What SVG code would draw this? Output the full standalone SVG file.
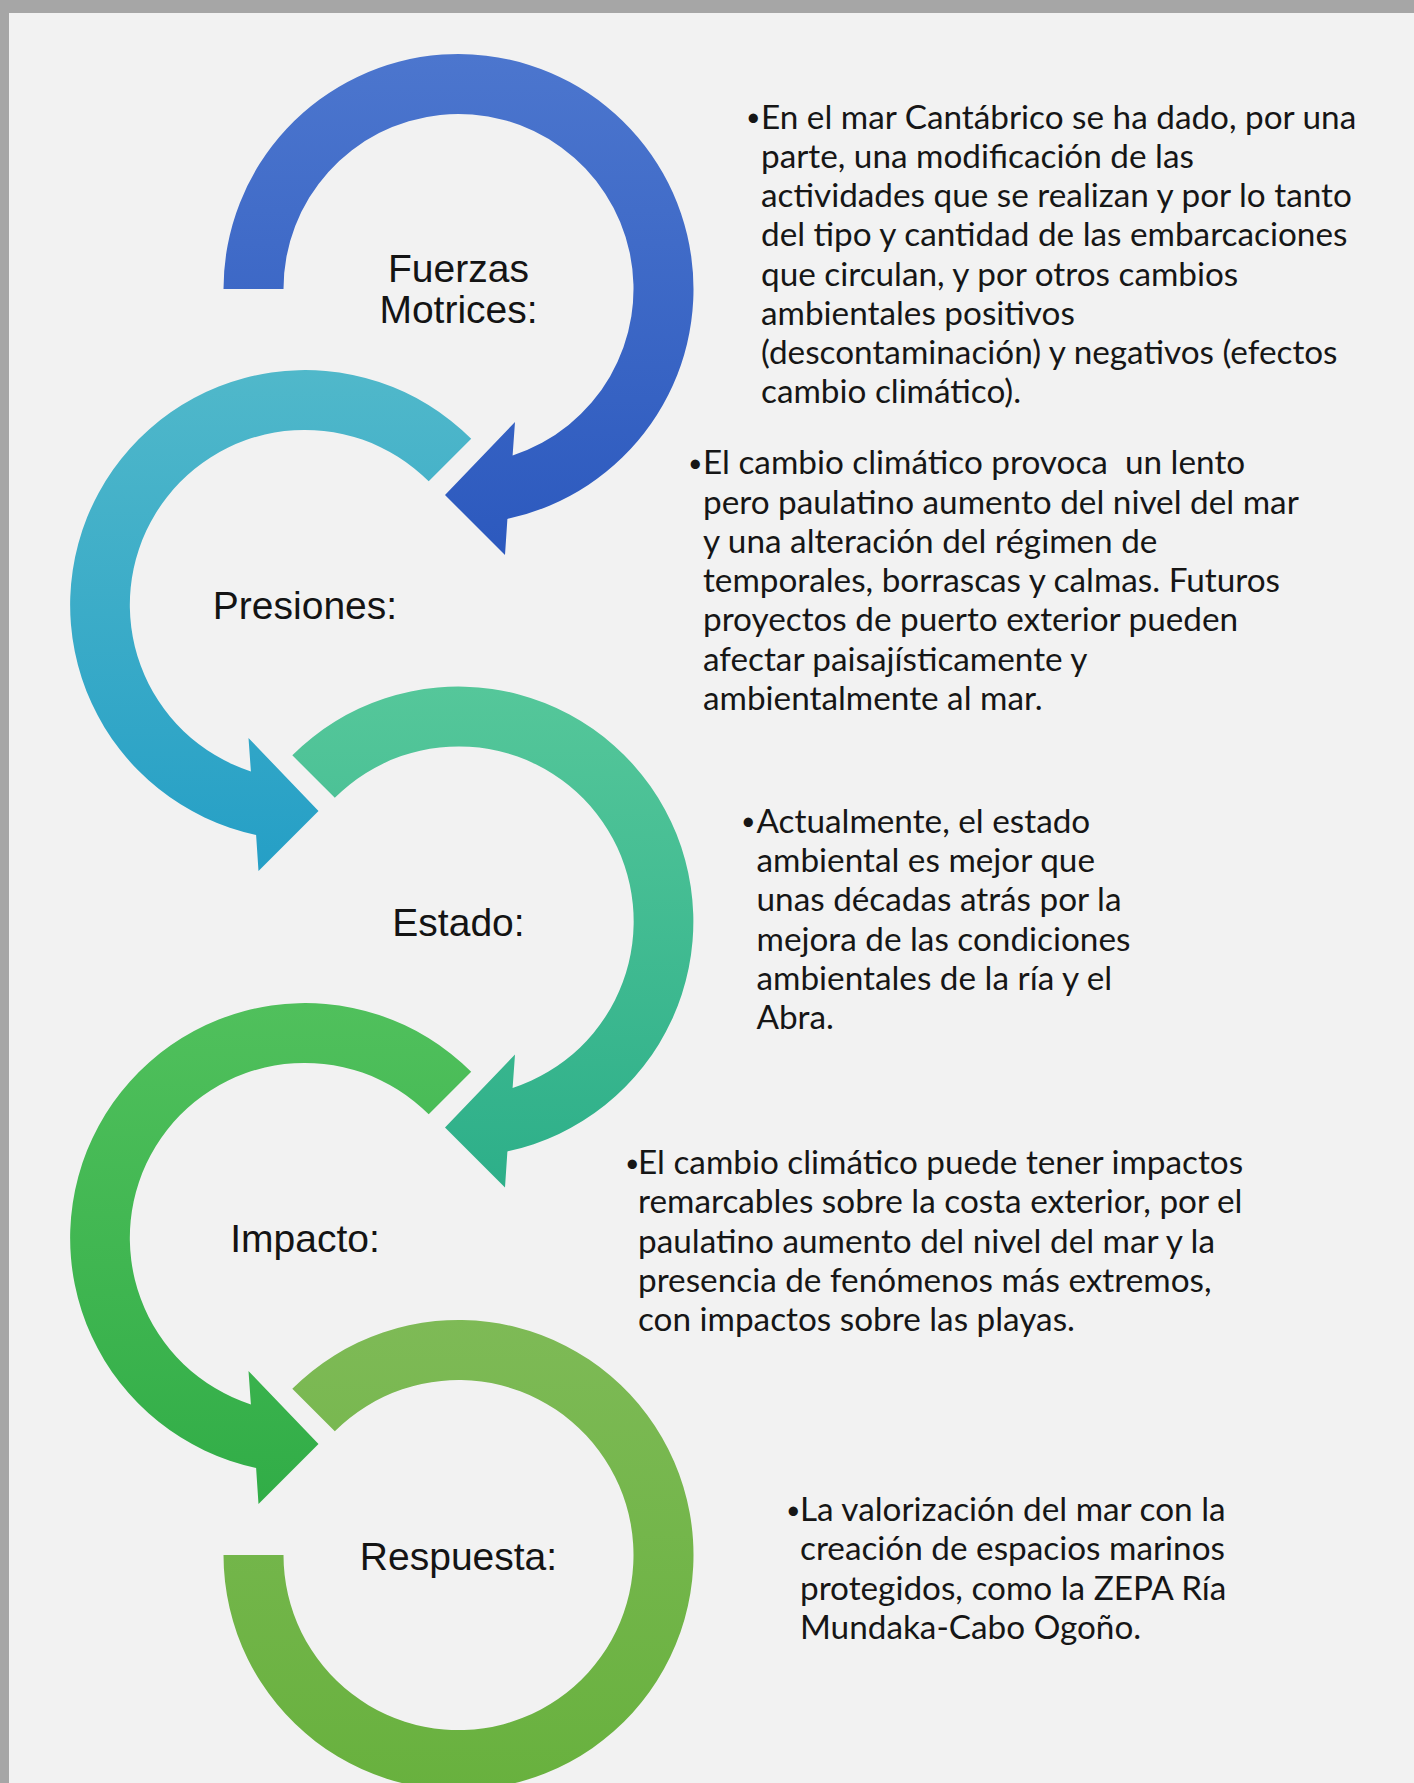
<svg xmlns="http://www.w3.org/2000/svg" width="1414" height="1783" viewBox="0 0 1414 1783">
<style>
.lbl{font-family:"Liberation Sans",Arial,sans-serif;font-size:39px;fill:#141414;text-anchor:middle}
.desc{font-family:Lato,"Open Sans",sans-serif;font-size:33.3px;fill:#161616}
.bul{font-family:Lato,"Open Sans",sans-serif;font-size:25px;fill:#161616}
</style>
<defs>
<linearGradient id="g1" x1="0" y1="0" x2="0" y2="1"><stop offset="0" stop-color="#4C76CE"/><stop offset="1" stop-color="#2C59BE"/></linearGradient>
<linearGradient id="g2" x1="0" y1="0" x2="0" y2="1"><stop offset="0" stop-color="#50B8CA"/><stop offset="1" stop-color="#259FC6"/></linearGradient>
<linearGradient id="g3" x1="0" y1="0" x2="0" y2="1"><stop offset="0" stop-color="#55C79A"/><stop offset="1" stop-color="#2DAF89"/></linearGradient>
<linearGradient id="g4" x1="0" y1="0" x2="0" y2="1"><stop offset="0" stop-color="#50C05C"/><stop offset="1" stop-color="#31AD47"/></linearGradient>
<linearGradient id="g5" x1="0" y1="0" x2="0" y2="1"><stop offset="0" stop-color="#7EBA56"/><stop offset="1" stop-color="#68B13E"/></linearGradient>
</defs>
<rect x="0" y="0" width="1414" height="1783" fill="#F2F2F2"/>
<rect x="0" y="0" width="1414" height="13" fill="#A6A6A6"/>
<rect x="0" y="0" width="9" height="1783" fill="#A6A6A6"/>

<g id="node-fuerzas">
<path d="M223.5 289 A235 235 0 1 1 507.4 518.9 L505 555 L445 495 L515 422 L512.6 455.4 A175 175 0 1 0 283.5 289 Z" fill="url(#g1)"/>
<text class="lbl" x="458.5" y="282">Fuerzas</text>
<text class="lbl" x="458.5" y="323">Motrices:</text>
</g>
<g id="node-presiones">
<path d="M471.2 438.8 A235 235 0 1 0 256.1 834.9 L258.5 871 L318.5 811 L248.5 738 L250.9 771.4 A175 175 0 1 1 428.7 481.3 Z" fill="url(#g2)"/>
<text class="lbl" x="305" y="619">Presiones:</text>
</g>
<g id="node-estado">
<path d="M292.3 755.3 A235 235 0 1 1 507.4 1151.4 L505 1187.5 L445 1127.5 L515 1054.5 L512.6 1087.9 A175 175 0 1 0 334.8 797.8 Z" fill="url(#g3)"/>
<text class="lbl" x="458.5" y="936">Estado:</text>
</g>
<g id="node-impacto">
<path d="M471.2 1071.8 A235 235 0 1 0 256.1 1467.9 L258.5 1504 L318.5 1444 L248.5 1371 L250.9 1404.4 A175 175 0 1 1 428.7 1114.3 Z" fill="url(#g4)"/>
<text class="lbl" x="305" y="1252">Impacto:</text>
</g>
<g id="node-respuesta">
<path d="M292.3 1388.8 A235 235 0 1 1 223.5 1555 L283.5 1555 A175 175 0 1 0 334.8 1431.3 Z" fill="url(#g5)"/>
<text class="lbl" x="458.5" y="1570">Respuesta:</text>
</g>

<g id="connectors"></g>

<g id="desc-fuerzas">
<text class="bul" x="746" y="126">•</text>
<text class="desc"><tspan x="761" y="128.5">En el mar Cantábrico se ha dado, por una</tspan><tspan x="761" y="167.8">parte, una modificación de las</tspan><tspan x="761" y="207">actividades que se realizan y por lo tanto</tspan><tspan x="761" y="246.3">del tipo y cantidad de las embarcaciones</tspan><tspan x="761" y="285.5">que circulan, y por otros cambios</tspan><tspan x="761" y="324.8">ambientales positivos</tspan><tspan x="761" y="364">(descontaminación) y negativos (efectos</tspan><tspan x="761" y="403.3">cambio climático).</tspan></text>
</g>
<g id="desc-presiones">
<text class="bul" x="688" y="472">•</text>
<text class="desc" xml:space="preserve"><tspan x="703" y="474.4">El cambio climático provoca  un lento</tspan><tspan x="703" y="513.6">pero paulatino aumento del nivel del mar</tspan><tspan x="703" y="552.9">y una alteración del régimen de</tspan><tspan x="703" y="592.1">temporales, borrascas y calmas. Futuros</tspan><tspan x="703" y="631.4">proyectos de puerto exterior pueden</tspan><tspan x="703" y="670.6">afectar paisajísticamente y</tspan><tspan x="703" y="709.9">ambientalmente al mar.</tspan></text>
</g>
<g id="desc-estado">
<text class="bul" x="741" y="830">•</text>
<text class="desc"><tspan x="756.5" y="832.7">Actualmente, el estado</tspan><tspan x="756.5" y="872">ambiental es mejor que</tspan><tspan x="756.5" y="911.2">unas décadas atrás por la</tspan><tspan x="756.5" y="950.5">mejora de las condiciones</tspan><tspan x="756.5" y="989.7">ambientales de la ría y el</tspan><tspan x="756.5" y="1029">Abra.</tspan></text>
</g>
<g id="desc-impacto">
<text class="bul" x="625" y="1171.5">•</text>
<text class="desc"><tspan x="638" y="1174">El cambio climático puede tener impactos</tspan><tspan x="638" y="1213.3">remarcables sobre la costa exterior, por el</tspan><tspan x="638" y="1252.5">paulatino aumento del nivel del mar y la</tspan><tspan x="638" y="1291.8">presencia de fenómenos más extremos,</tspan><tspan x="638" y="1331">con impactos sobre las playas.</tspan></text>
</g>
<g id="desc-respuesta">
<text class="bul" x="786" y="1518.5">•</text>
<text class="desc"><tspan x="800" y="1521">La valorización del mar con la</tspan><tspan x="800" y="1560.2">creación de espacios marinos</tspan><tspan x="800" y="1599.5">protegidos, como la ZEPA Ría</tspan><tspan x="800" y="1638.7">Mundaka-Cabo Ogoño.</tspan></text>
</g>
</svg>
